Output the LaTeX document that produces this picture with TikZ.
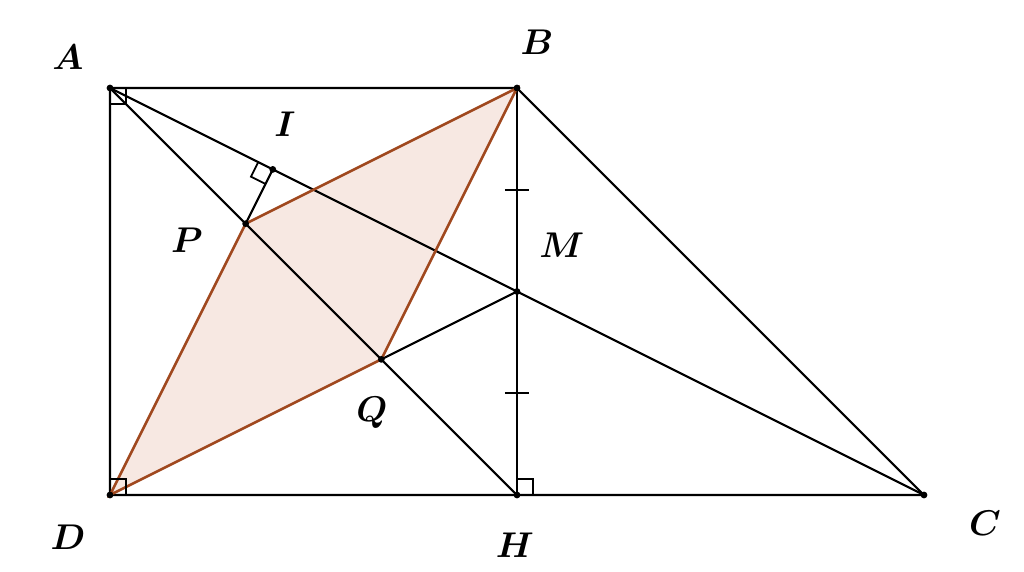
\documentclass[tikz,border=0pt]{standalone}
\usetikzlibrary{calc}
\definecolor{fillc}{RGB}{247,232,226}
\definecolor{edgec}{RGB}{160,72,30}
\begin{document}
\begin{tikzpicture}[
  seg/.style={line width=0.6pt,black},
  pedge/.style={line width=0.7pt,edgec},
  lab/.style={font=\fontsize{10}{12}\selectfont\boldmath},
  dot/.style={circle,fill=black,inner sep=0pt,minimum size=1.9pt},
  rmark/.style={line width=0.5pt,black}
]
\useasboundingbox (-1.081,-0.747) rectangle (8.983,4.865);
\coordinate (A) at (0,4);
\coordinate (B) at (4,4);
\coordinate (D) at (0,0);
\coordinate (H) at (4,0);
\coordinate (C) at (8,0);
\coordinate (M) at (4,2);
\coordinate (P) at (4/3,8/3);
\coordinate (Q) at (8/3,4/3);
\coordinate (I) at (1.6,3.2);
% parallelogram
\fill[fillc] (D) -- (P) -- (B) -- (Q) -- cycle;
% lines
\draw[seg] (A) -- (B) -- (C) -- (D) -- cycle;
\draw[seg] (B) -- (H);
\draw[seg] (A) -- (H);
\draw[seg] (A) -- (C);
\draw[seg] (P) -- (I);
\draw[seg] (M) -- (Q);
\draw[pedge] (D) -- (P) -- (B) -- (Q) -- cycle;
% ticks
\coordinate (T1) at ($(B)!0.5!(M)$);
\coordinate (T2) at ($(M)!0.5!(H)$);
\draw[seg] ($(T1)+(-0.12,0)$) -- ($(T1)+(0.12,0)$);
\draw[seg] ($(T2)+(-0.12,0)$) -- ($(T2)+(0.12,0)$);
% right angle marks
\draw[rmark] ($(A)+(0.16,0)$) -- ($(A)+(0.16,-0.16)$) -- ($(A)+(0,-0.16)$);
\draw[rmark] ($(D)+(0.16,0)$) -- ($(D)+(0.16,0.16)$) -- ($(D)+(0,0.16)$);
\draw[rmark] ($(H)+(0.16,0)$) -- ($(H)+(0.16,0.16)$) -- ($(H)+(0,0.16)$);
\coordinate (Ia) at ($(I)!0.16cm!(A)$);
\coordinate (Ip) at ($(I)!0.16cm!(P)$);
\draw[rmark] (Ia) -- ($(Ia)+(Ip)-(I)$) -- (Ip);
% dots
\foreach \p in {A,B,C,D,H,M,P,Q,I} \node[dot] (d\p) at (\p) {};
% labels
\node[lab] (lA) at (-0.413,4.305) {$A$};
\node[lab] (lB) at (4.197,4.452) {$B$};
\node[lab] (lI) at (1.72,3.64) {$I$};
\node[lab] (lP) at (0.757,2.506) {$P$};
\node[lab] (lM) at (4.44,2.457) {$M$};
\node[lab] (lQ) at (2.575,0.806) {$Q$};
\node[lab] (lD) at (-0.413,-0.413) {$D$};
\node[lab] (lH) at (3.98,-0.49) {$H$};
\node[lab] (lC) at (8.6,-0.275) {$C$};
\end{tikzpicture}
\end{document}
